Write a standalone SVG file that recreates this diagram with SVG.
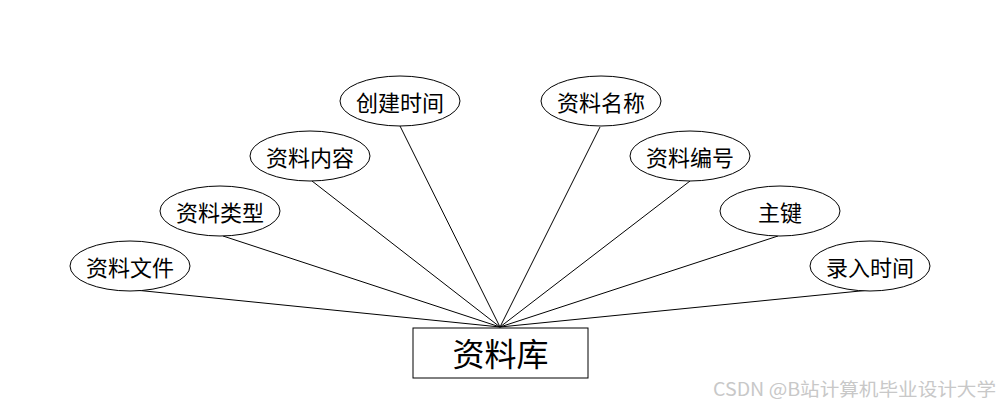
<svg xmlns="http://www.w3.org/2000/svg" width="1000" height="408" viewBox="0 0 1000 408">
<style>
.attr ellipse{fill:#fff;stroke:#000;stroke-width:1}
.t{font-family:"Noto Sans CJK SC","Noto Sans",sans-serif;font-size:22px;fill:#000;text-anchor:middle;dominant-baseline:central}
.conn line{stroke:#000;stroke-width:1}
</style>
<rect width="1000" height="408" fill="#fff"/>
<g id="connectors" class="conn">
<line x1="135" y1="290" x2="500" y2="327"/>
<line x1="223" y1="236" x2="500" y2="327"/>
<line x1="312" y1="181" x2="500" y2="327"/>
<line x1="400" y1="126" x2="500" y2="327"/>
<line x1="600" y1="127" x2="500" y2="327"/>
<line x1="690" y1="181" x2="500" y2="327"/>
<line x1="778" y1="236" x2="500" y2="327"/>
<line x1="870" y1="290" x2="500" y2="327"/>
</g>
<g id="entity">
<rect x="413" y="328" width="175" height="50" fill="#fff" stroke="#000" stroke-width="1"/>
<text x="500.5" y="352" class="t" style="font-size:32px">资料库</text>
</g>
<g id="a1" class="attr"><ellipse cx="130" cy="266" rx="60" ry="25"/><text x="130" y="266" class="t">资料文件</text></g>
<g id="a2" class="attr"><ellipse cx="220" cy="211" rx="60" ry="25"/><text x="220" y="211" class="t">资料类型</text></g>
<g id="a3" class="attr"><ellipse cx="310" cy="156" rx="60" ry="25"/><text x="310" y="156" class="t">资料内容</text></g>
<g id="a4" class="attr"><ellipse cx="400" cy="101" rx="60" ry="25"/><text x="400" y="101" class="t">创建时间</text></g>
<g id="a5" class="attr"><ellipse cx="601" cy="101" rx="60" ry="25"/><text x="601" y="101" class="t">资料名称</text></g>
<g id="a6" class="attr"><ellipse cx="690" cy="156" rx="60" ry="25"/><text x="690" y="156" class="t">资料编号</text></g>
<g id="a7" class="attr"><ellipse cx="780" cy="211" rx="60" ry="25"/><text x="780" y="211" class="t">主键</text></g>
<g id="a8" class="attr"><ellipse cx="870" cy="266" rx="60" ry="25"/><text x="870" y="266" class="t">录入时间</text></g>
<text x="713" y="396" textLength="283" lengthAdjust="spacingAndGlyphs" style="font-family:'Noto Sans CJK SC','Noto Sans',sans-serif;font-size:18px;fill:#c8c8c8">CSDN @B站计算机毕业设计大学</text>
</svg>
